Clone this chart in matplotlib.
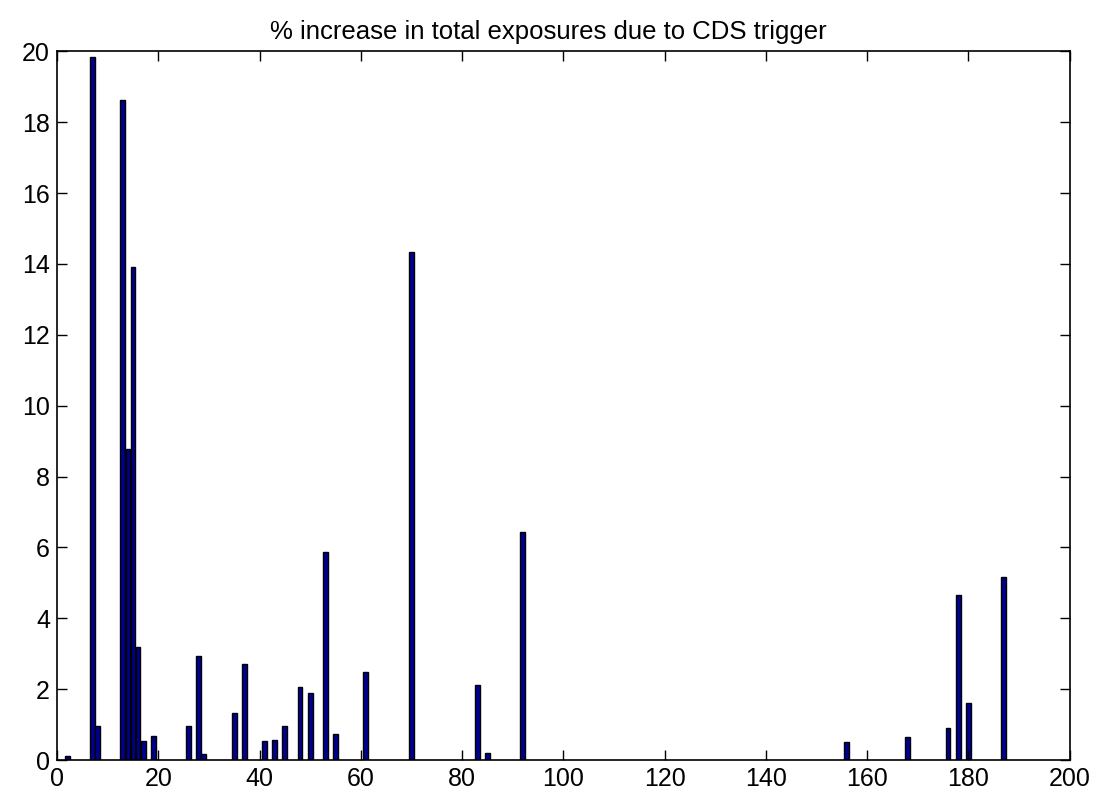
import numpy as np
import matplotlib
matplotlib.use("Agg")
import matplotlib.pyplot as plt

plt.rcParams['font.family'] = ['Liberation Sans', 'DejaVu Sans']

# index of the run and % increase in exposures (zero entries left out)
run_index = [2, 7, 8, 13, 14, 15, 16, 17, 19, 26, 28, 29, 35, 37, 41, 43, 45,
             48, 50, 53, 55, 61, 70, 83, 85, 92, 156, 168, 176, 178, 180, 187]
pct_increase = [0.12, 19.84, 0.95, 18.62, 8.78, 13.9, 3.2, 0.55, 0.67, 0.97,
                2.93, 0.18, 1.32, 2.70, 0.53, 0.56, 0.97, 2.05, 1.89, 5.87,
                0.73, 2.48, 14.35, 2.11, 0.21, 6.44, 0.51, 0.65, 0.9, 4.66,
                1.62, 5.18]
x_ticks = np.arange(0, 201, 20)
y_ticks = np.arange(0, 21, 2)

fig = plt.figure(figsize=(10.97, 8.01), dpi=100)
ax = fig.add_axes([0.052, 0.051, 0.923, 0.885])

ax.bar(run_index, pct_increase, width=0.95, color="#00008f",
       edgecolor="black", linewidth=1.0)

ax.set_xlim(0, 200)
ax.set_ylim(0, 20)
ax.set_xticks(x_ticks)
ax.set_yticks(y_ticks)
ax.tick_params(which='major', length=7, width=1.0, direction='in',
               bottom=True, top=True, left=True, right=True, labelsize=18,
               pad=5)
for s in ax.spines.values():
    s.set_linewidth(1.2)
ax.set_title("% increase in total exposures due to CDS trigger", fontsize=18.5,
             pad=9, x=0.485)

fig.savefig("out.png", dpi=100)
